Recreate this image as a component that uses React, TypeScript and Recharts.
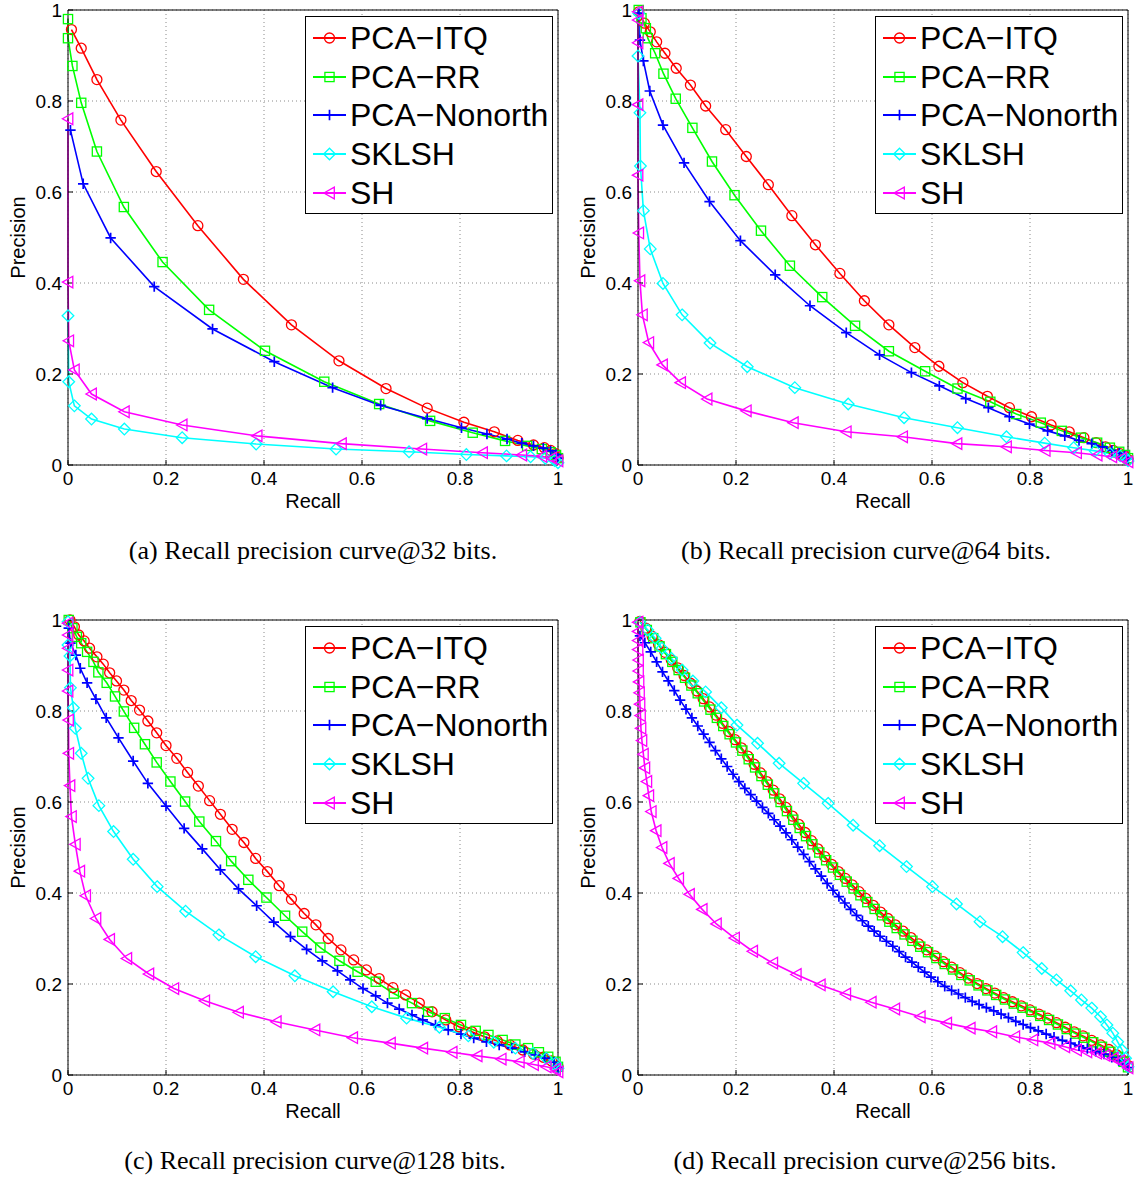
import { CartesianGrid, Legend, Line, LineChart, XAxis, YAxis } from "recharts";

type Pt = [number, number];
type MarkerKind = "circle" | "square" | "plus" | "diamond" | "triangle";

const FONT = '"Liberation Sans", Arial, Helvetica, sans-serif';

const axisTicks = [0, 0.2, 0.4, 0.6, 0.8, 1];
const seriesNames = ["PCA\u2212ITQ", "PCA\u2212RR", "PCA\u2212Nonorth", "SKLSH", "SH"];
const seriesColors = ["#ff0000", "#00ff00", "#0000ff", "#00ffff", "#ff00ff"];
const seriesMarkers: MarkerKind[] = ["circle", "square", "plus", "diamond", "triangle"];

// (a) 32 bits — [recall, precision]
const itq32: Pt[] = [[0.007,0.957],[0.027,0.916],[0.059,0.847],[0.108,0.758],[0.18,0.645],[0.265,0.526],[0.358,0.408],[0.456,0.308],[0.553,0.229],[0.649,0.168],[0.733,0.125],[0.808,0.094],[0.87,0.073],[0.918,0.054],[0.95,0.044],[0.972,0.038],[0.985,0.032],[0.995,0.025],[1,0.016]];
const rr32: Pt[] = [[0,0.98],[0,0.938],[0.009,0.877],[0.027,0.796],[0.059,0.689],[0.114,0.567],[0.193,0.446],[0.288,0.341],[0.402,0.251],[0.523,0.183],[0.635,0.134],[0.739,0.097],[0.826,0.071],[0.892,0.053],[0.937,0.042],[0.967,0.035],[0.985,0.028],[0.996,0.022],[1,0.015]];
const nonorth32: Pt[] = [[0.005,0.736],[0.031,0.618],[0.087,0.499],[0.176,0.392],[0.295,0.299],[0.421,0.227],[0.54,0.17],[0.638,0.131],[0.733,0.102],[0.803,0.082],[0.855,0.068],[0.896,0.057],[0.926,0.048],[0.95,0.042],[0.97,0.037],[0.985,0.031],[0.996,0.023],[1,0.015]];
const sklsh32: Pt[] = [[0,0.328],[0.0015,0.183],[0.013,0.13],[0.048,0.101],[0.115,0.079],[0.233,0.06],[0.384,0.046],[0.547,0.035],[0.696,0.029],[0.813,0.023],[0.895,0.02],[0.944,0.018],[0.974,0.015],[0.993,0.01],[1,0.005]];
const sh32: Pt[] = [[0,0.761],[0,0.402],[0.0015,0.273],[0.013,0.209],[0.048,0.156],[0.115,0.117],[0.233,0.088],[0.386,0.064],[0.558,0.047],[0.722,0.035],[0.846,0.027],[0.926,0.022],[0.967,0.019],[0.987,0.015],[1,0.009]];

// (b) 64 bits
const itq64: Pt[] = [[0.0015,0.996],[0.013,0.971],[0.025,0.952],[0.038,0.93],[0.055,0.905],[0.078,0.872],[0.107,0.835],[0.138,0.789],[0.179,0.737],[0.221,0.678],[0.266,0.616],[0.314,0.548],[0.362,0.484],[0.412,0.421],[0.462,0.361],[0.512,0.308],[0.565,0.258],[0.614,0.217],[0.663,0.181],[0.713,0.151],[0.758,0.126],[0.803,0.106],[0.843,0.088],[0.88,0.073],[0.91,0.06],[0.935,0.049],[0.954,0.04],[0.97,0.032],[0.984,0.025],[0.993,0.02],[1,0.012]];
const rr64: Pt[] = [[0.0015,1],[0.007,0.982],[0.016,0.96],[0.02,0.938],[0.035,0.905],[0.052,0.86],[0.077,0.805],[0.111,0.741],[0.151,0.667],[0.197,0.593],[0.251,0.515],[0.31,0.438],[0.376,0.369],[0.443,0.306],[0.512,0.25],[0.586,0.206],[0.652,0.168],[0.719,0.139],[0.772,0.112],[0.822,0.093],[0.865,0.075],[0.904,0.06],[0.937,0.049],[0.963,0.038],[0.982,0.029],[0.994,0.022],[1,0.015]];
const nonorth64: Pt[] = [[0.0015,0.993],[0.004,0.934],[0.011,0.888],[0.024,0.822],[0.051,0.747],[0.094,0.664],[0.146,0.579],[0.209,0.493],[0.28,0.418],[0.351,0.35],[0.425,0.291],[0.493,0.242],[0.558,0.203],[0.615,0.174],[0.669,0.146],[0.715,0.126],[0.758,0.106],[0.799,0.09],[0.836,0.075],[0.871,0.064],[0.9,0.054],[0.926,0.047],[0.948,0.04],[0.967,0.032],[0.982,0.026],[0.993,0.02],[1,0.014]];
const sklsh64: Pt[] = [[0.0015,0.993],[0,0.899],[0.004,0.774],[0.005,0.657],[0.011,0.559],[0.025,0.475],[0.051,0.399],[0.09,0.33],[0.147,0.268],[0.223,0.216],[0.32,0.17],[0.429,0.134],[0.543,0.104],[0.652,0.082],[0.752,0.062],[0.83,0.048],[0.889,0.038],[0.933,0.031],[0.963,0.025],[0.984,0.02],[0.996,0.015],[1,0.009]];
const sh64: Pt[] = [[0,0.996],[0,0.978],[0,0.928],[0,0.792],[0,0.637],[0.0015,0.51],[0.004,0.405],[0.009,0.33],[0.022,0.269],[0.05,0.22],[0.087,0.181],[0.141,0.145],[0.221,0.119],[0.317,0.093],[0.425,0.073],[0.54,0.062],[0.651,0.047],[0.752,0.04],[0.831,0.032],[0.895,0.027],[0.937,0.022],[0.967,0.018],[0.987,0.015],[1,0.007]];

// (c) 128 bits
const itq128: Pt[] = [[0.004,1],[0.013,0.985],[0.022,0.967],[0.033,0.954],[0.044,0.938],[0.059,0.919],[0.072,0.903],[0.085,0.884],[0.099,0.866],[0.114,0.846],[0.129,0.823],[0.146,0.802],[0.163,0.778],[0.181,0.752],[0.2,0.724],[0.222,0.696],[0.244,0.665],[0.266,0.635],[0.289,0.603],[0.311,0.573],[0.335,0.54],[0.359,0.511],[0.383,0.476],[0.407,0.447],[0.431,0.416],[0.456,0.386],[0.482,0.355],[0.506,0.33],[0.531,0.3],[0.557,0.275],[0.583,0.253],[0.609,0.231],[0.635,0.212],[0.663,0.192],[0.689,0.176],[0.717,0.158],[0.743,0.139],[0.771,0.121],[0.798,0.106],[0.824,0.095],[0.85,0.084],[0.876,0.075],[0.902,0.066],[0.928,0.055],[0.95,0.046],[0.97,0.039],[0.987,0.031],[1,0.018]];
const rr128: Pt[] = [[0.0015,1],[0.009,0.982],[0.018,0.963],[0.027,0.949],[0.039,0.93],[0.052,0.908],[0.062,0.885],[0.079,0.862],[0.096,0.832],[0.114,0.799],[0.135,0.763],[0.157,0.727],[0.181,0.687],[0.209,0.645],[0.239,0.601],[0.268,0.557],[0.302,0.514],[0.333,0.47],[0.368,0.429],[0.405,0.39],[0.443,0.35],[0.478,0.315],[0.515,0.28],[0.554,0.251],[0.591,0.227],[0.628,0.205],[0.665,0.179],[0.702,0.158],[0.735,0.139],[0.769,0.125],[0.802,0.11],[0.832,0.097],[0.858,0.088],[0.887,0.077],[0.913,0.067],[0.939,0.059],[0.961,0.05],[0.98,0.04],[0.995,0.029],[1,0.018]];
const nonorth128: Pt[] = [[0.0015,0.982],[0.005,0.949],[0.016,0.923],[0.025,0.894],[0.039,0.862],[0.057,0.826],[0.078,0.785],[0.103,0.741],[0.133,0.69],[0.163,0.641],[0.2,0.591],[0.237,0.542],[0.274,0.497],[0.311,0.451],[0.348,0.409],[0.385,0.372],[0.42,0.336],[0.454,0.304],[0.487,0.276],[0.519,0.251],[0.55,0.229],[0.576,0.209],[0.602,0.19],[0.628,0.174],[0.652,0.158],[0.676,0.145],[0.702,0.132],[0.724,0.121],[0.75,0.11],[0.776,0.099],[0.802,0.09],[0.828,0.081],[0.854,0.073],[0.88,0.066],[0.906,0.059],[0.932,0.051],[0.954,0.044],[0.973,0.037],[0.992,0.028],[1,0.016]];
const sklsh128: Pt[] = [[0,0.996],[0,0.945],[0.004,0.921],[0.005,0.851],[0.011,0.807],[0.015,0.762],[0.027,0.707],[0.041,0.652],[0.063,0.592],[0.093,0.535],[0.133,0.474],[0.182,0.414],[0.24,0.36],[0.308,0.308],[0.383,0.26],[0.463,0.218],[0.541,0.183],[0.62,0.15],[0.691,0.125],[0.758,0.105],[0.817,0.086],[0.869,0.072],[0.913,0.059],[0.949,0.048],[0.976,0.037],[0.995,0.026],[1,0.015]];
const sh128: Pt[] = [[0,0.993],[0,0.967],[0,0.938],[0,0.89],[0,0.844],[0.001,0.78],[0.0015,0.707],[0.004,0.636],[0.007,0.568],[0.015,0.507],[0.024,0.448],[0.036,0.394],[0.057,0.344],[0.085,0.298],[0.12,0.256],[0.165,0.222],[0.216,0.19],[0.279,0.163],[0.348,0.138],[0.425,0.117],[0.504,0.099],[0.581,0.082],[0.658,0.07],[0.724,0.059],[0.784,0.05],[0.835,0.042],[0.884,0.035],[0.921,0.029],[0.95,0.023],[0.976,0.018],[0.995,0.013],[1,0.007]];

// (d) 256 bits
const itq256: Pt[] = [[0.004,0.997],[0.016,0.982],[0.029,0.964],[0.042,0.946],[0.055,0.929],[0.068,0.912],[0.081,0.895],[0.094,0.878],[0.107,0.861],[0.12,0.844],[0.133,0.827],[0.146,0.809],[0.159,0.791],[0.172,0.773],[0.185,0.755],[0.198,0.737],[0.211,0.719],[0.224,0.701],[0.237,0.683],[0.25,0.664],[0.263,0.645],[0.276,0.626],[0.289,0.607],[0.302,0.588],[0.315,0.569],[0.328,0.551],[0.341,0.533],[0.354,0.515],[0.367,0.497],[0.381,0.48],[0.395,0.463],[0.409,0.447],[0.423,0.432],[0.437,0.418],[0.451,0.403],[0.465,0.388],[0.48,0.373],[0.495,0.358],[0.51,0.344],[0.525,0.33],[0.541,0.316],[0.557,0.302],[0.573,0.288],[0.589,0.275],[0.606,0.262],[0.623,0.249],[0.64,0.237],[0.657,0.225],[0.674,0.213],[0.692,0.201],[0.71,0.19],[0.728,0.18],[0.746,0.17],[0.764,0.161],[0.782,0.152],[0.8,0.143],[0.818,0.134],[0.836,0.125],[0.854,0.115],[0.872,0.105],[0.89,0.095],[0.908,0.086],[0.926,0.076],[0.944,0.066],[0.961,0.056],[0.976,0.045],[0.989,0.033],[1,0.021]];
const rr256: Pt[] = [[0.005,0.995],[0.018,0.978],[0.031,0.96],[0.044,0.942],[0.057,0.925],[0.07,0.908],[0.083,0.89],[0.096,0.873],[0.109,0.856],[0.122,0.839],[0.135,0.821],[0.148,0.803],[0.161,0.785],[0.174,0.767],[0.187,0.749],[0.2,0.731],[0.213,0.713],[0.226,0.694],[0.239,0.676],[0.252,0.657],[0.265,0.638],[0.278,0.619],[0.291,0.6],[0.304,0.58],[0.317,0.561],[0.33,0.543],[0.343,0.525],[0.356,0.507],[0.37,0.489],[0.384,0.472],[0.398,0.456],[0.412,0.44],[0.426,0.425],[0.44,0.41],[0.454,0.395],[0.468,0.38],[0.483,0.365],[0.498,0.351],[0.513,0.337],[0.528,0.323],[0.544,0.309],[0.56,0.295],[0.576,0.282],[0.592,0.27],[0.609,0.257],[0.626,0.244],[0.643,0.232],[0.66,0.22],[0.677,0.208],[0.695,0.197],[0.713,0.186],[0.731,0.176],[0.749,0.166],[0.767,0.157],[0.785,0.148],[0.803,0.139],[0.821,0.13],[0.839,0.121],[0.857,0.111],[0.875,0.101],[0.893,0.091],[0.911,0.082],[0.929,0.072],[0.947,0.062],[0.964,0.051],[0.979,0.04],[0.991,0.029],[1,0.017]];
const nonorth256: Pt[] = [[0.004,0.965],[0.014,0.95],[0.026,0.93],[0.038,0.908],[0.05,0.886],[0.062,0.866],[0.074,0.845],[0.086,0.824],[0.098,0.804],[0.11,0.785],[0.122,0.767],[0.134,0.749],[0.146,0.731],[0.158,0.713],[0.17,0.695],[0.182,0.678],[0.194,0.661],[0.206,0.645],[0.218,0.63],[0.23,0.616],[0.242,0.602],[0.254,0.588],[0.266,0.575],[0.278,0.561],[0.29,0.547],[0.302,0.532],[0.314,0.517],[0.326,0.501],[0.338,0.485],[0.35,0.469],[0.362,0.453],[0.374,0.437],[0.386,0.421],[0.398,0.406],[0.41,0.392],[0.422,0.378],[0.434,0.364],[0.446,0.351],[0.458,0.339],[0.47,0.327],[0.482,0.316],[0.494,0.305],[0.507,0.294],[0.52,0.283],[0.533,0.271],[0.546,0.259],[0.559,0.248],[0.572,0.237],[0.585,0.226],[0.598,0.215],[0.612,0.205],[0.626,0.195],[0.64,0.186],[0.654,0.178],[0.668,0.17],[0.682,0.162],[0.696,0.155],[0.711,0.148],[0.726,0.141],[0.741,0.134],[0.756,0.126],[0.771,0.118],[0.786,0.111],[0.801,0.104],[0.817,0.097],[0.833,0.09],[0.849,0.083],[0.866,0.076],[0.883,0.07],[0.9,0.064],[0.917,0.058],[0.934,0.052],[0.951,0.046],[0.967,0.039],[0.981,0.032],[0.993,0.024],[1,0.016]];
const sklsh256: Pt[] = [[0.004,0.995],[0.02,0.978],[0.035,0.96],[0.049,0.938],[0.068,0.916],[0.09,0.89],[0.112,0.866],[0.138,0.842],[0.17,0.807],[0.202,0.769],[0.244,0.729],[0.288,0.685],[0.338,0.641],[0.388,0.597],[0.439,0.549],[0.493,0.504],[0.548,0.458],[0.601,0.414],[0.65,0.376],[0.698,0.337],[0.744,0.304],[0.786,0.269],[0.824,0.234],[0.854,0.209],[0.883,0.185],[0.905,0.165],[0.926,0.147],[0.944,0.128],[0.957,0.11],[0.969,0.092],[0.979,0.073],[0.988,0.055],[0.995,0.037],[1,0.018]];
const sh256: Pt[] = [[0,0.995],[0,0.975],[0,0.955],[0,0.935],[0.001,0.912],[0.001,0.888],[0.002,0.864],[0.003,0.84],[0.004,0.815],[0.005,0.79],[0.006,0.762],[0.008,0.735],[0.011,0.705],[0.014,0.675],[0.018,0.645],[0.022,0.614],[0.027,0.579],[0.037,0.537],[0.049,0.5],[0.064,0.465],[0.083,0.432],[0.105,0.397],[0.131,0.364],[0.16,0.332],[0.197,0.301],[0.234,0.272],[0.275,0.246],[0.323,0.221],[0.372,0.198],[0.424,0.178],[0.476,0.16],[0.524,0.145],[0.576,0.128],[0.63,0.114],[0.678,0.103],[0.722,0.095],[0.769,0.084],[0.806,0.077],[0.841,0.07],[0.871,0.062],[0.895,0.055],[0.916,0.051],[0.936,0.048],[0.953,0.043],[0.97,0.037],[0.983,0.031],[0.993,0.024],[1,0.016]];

const panels = [
  { caption: "(a) Recall precision curve@32 bits.", left: 0, top: 0, width: 570, captionX: 313, series: [itq32, rr32, nonorth32, sklsh32, sh32] },
  { caption: "(b) Recall precision curve@64 bits.", left: 570, top: 0, width: 565, captionX: 866, series: [itq64, rr64, nonorth64, sklsh64, sh64] },
  { caption: "(c) Recall precision curve@128 bits.", left: 0, top: 610, width: 570, captionX: 315, series: [itq128, rr128, nonorth128, sklsh128, sh128] },
  { caption: "(d) Recall precision curve@256 bits.", left: 570, top: 610, width: 565, captionX: 865, series: [itq256, rr256, nonorth256, sklsh256, sh256] },
];

function Marker({ kind, cx, cy, color }: { kind: MarkerKind; cx: number; cy: number; color: string }) {
  const s = { fill: "none", stroke: color, strokeWidth: 1.3 };
  if (kind === "circle") return <circle cx={cx} cy={cy} r={5} {...s} />;
  if (kind === "square") return <rect x={cx - 4.6} y={cy - 4.6} width={9.2} height={9.2} {...s} />;
  if (kind === "plus") return <path d={`M${cx - 5.2},${cy}H${cx + 5.2}M${cx},${cy - 5.2}V${cy + 5.2}`} {...s} strokeWidth={1.7} />;
  if (kind === "diamond") return <path d={`M${cx},${cy - 5.8}L${cx + 5.8},${cy}L${cx},${cy + 5.8}L${cx - 5.8},${cy}Z`} {...s} />;
  return <path d={`M${cx - 5.6},${cy}L${cx + 4.8},${cy - 5.8}L${cx + 4.8},${cy + 5.8}Z`} {...s} />;
}

const renderLegend = () => (
  <div style={{ width: 246, height: 194, border: "1.3px solid #000", background: "#fff", paddingTop: 2, boxSizing: "content-box" }}>
    {seriesNames.map((name, i) => (
      <div key={name} style={{ display: "flex", alignItems: "center", height: 38.6 }}>
        <svg width={44} height={38} style={{ flex: "none" }}>
          <line x1={7} x2={40} y1={19} y2={19} stroke={seriesColors[i]} strokeWidth={1.8} />
          <Marker kind={seriesMarkers[i]} cx={23.5} cy={19} color={seriesColors[i]} />
        </svg>
        <span style={{ fontFamily: FONT, fontSize: 32, color: "#000", lineHeight: "38px" }}>{name}</span>
      </div>
    ))}
  </div>
);

function Panel({ p }: { p: (typeof panels)[number] }) {
  const plotRight = 558;
  return (
    <>
      <div style={{ position: "absolute", left: p.left, top: p.top }}>
        <LineChart width={p.width} height={520} margin={{ top: 0, right: 0, bottom: 0, left: 0 }}>
          <CartesianGrid stroke="#8a8a8a" strokeDasharray="1 3" />
          <XAxis
            type="number"
            dataKey="r"
            domain={[0, 1]}
            ticks={axisTicks}
            interval={0}
            height={55}
            tickSize={-5}
            tickMargin={12}
            stroke="#000"
            tick={{ fontSize: 19, fill: "#000", fontFamily: FONT }}
            label={{ value: "Recall", position: "insideBottom", offset: 12, fontSize: 20, fill: "#000", fontFamily: FONT }}
          />
          <XAxis xAxisId="top" orientation="top" type="number" domain={[0, 1]} ticks={axisTicks} interval={0} height={10} tickSize={-5} tick={false} stroke="#000" />
          <YAxis
            type="number"
            domain={[0, 1]}
            ticks={axisTicks}
            interval={0}
            width={68}
            tickSize={-5}
            tickMargin={11}
            stroke="#000"
            tick={{ fontSize: 19, fill: "#000", fontFamily: FONT }}
            label={{ value: "Precision", angle: -90, position: "insideLeft", offset: 18, fontSize: 20, fill: "#000", fontFamily: FONT, style: { textAnchor: "middle" } }}
          />
          <YAxis yAxisId="right" orientation="right" type="number" domain={[0, 1]} ticks={axisTicks} interval={0} width={p.width - plotRight} tickSize={-5} tick={false} stroke="#000" />
          {p.series.map((pts, i) => (
            <Line
              key={seriesNames[i]}
              data={pts.map(([r, v]) => ({ r, p: v }))}
              dataKey="p"
              type="linear"
              stroke={seriesColors[i]}
              strokeWidth={1.6}
              isAnimationActive={false}
              activeDot={false}
              dot={(d: any) => <Marker key={`${i}-${d.index}`} kind={seriesMarkers[i]} cx={d.cx} cy={d.cy} color={seriesColors[i]} />}
            />
          ))}
          <Legend layout="vertical" align="center" verticalAlign="middle" content={renderLegend} wrapperStyle={{ top: 16, left: plotRight - 253, width: 248, height: 196 }} />
        </LineChart>
      </div>
      <div
        style={{
          position: "absolute",
          left: p.captionX - 300,
          top: p.top + 536,
          width: 600,
          textAlign: "center",
          fontFamily: '"Liberation Serif", "Times New Roman", serif',
          fontSize: 26,
          lineHeight: "30px",
          color: "#000",
        }}
      >
        {p.caption}
      </div>
    </>
  );
}

export default function App() {
  return (
    <div style={{ position: "absolute", left: 0, top: 0, width: 1135, height: 1179, background: "#fff", overflow: "hidden" }}>
      {panels.map((p) => (
        <Panel key={p.caption} p={p} />
      ))}
    </div>
  );
}
